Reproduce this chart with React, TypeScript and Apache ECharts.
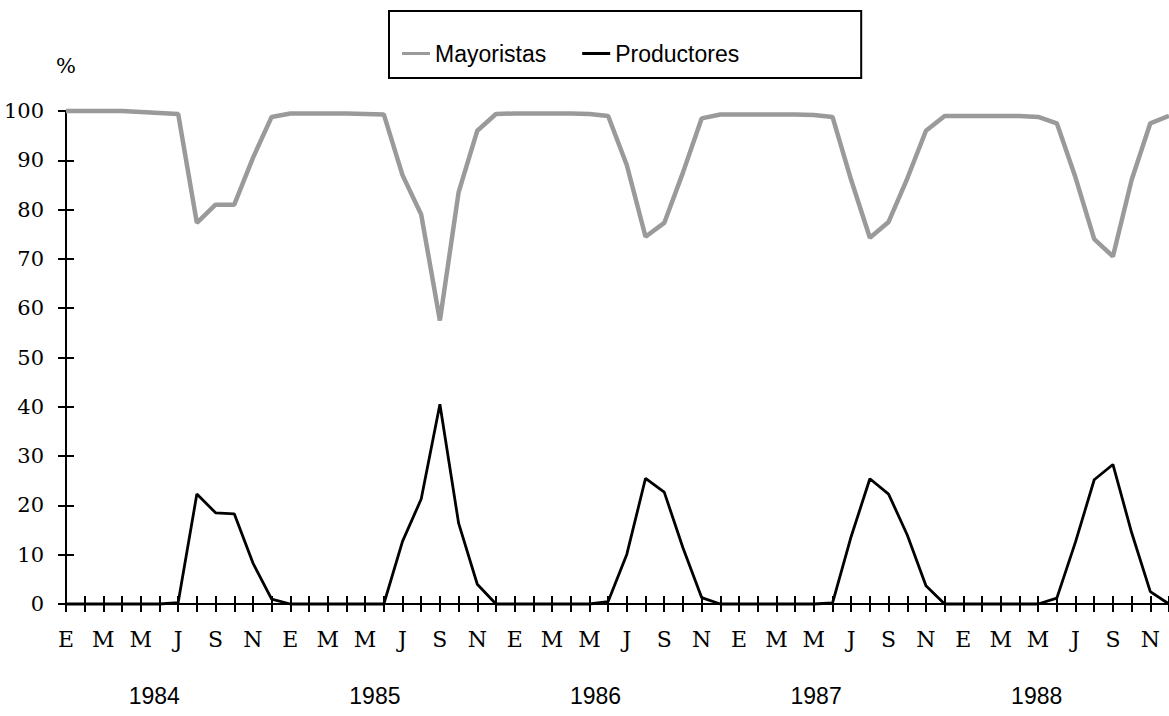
import React, { useEffect, useRef } from "react";
import * as echarts from "echarts";

// Month initials (Spanish) and years
const monthLetters = ["E", "F", "M", "A", "M", "J", "J", "A", "S", "O", "N", "D"];
const years = ["1984", "1985", "1986", "1987", "1988"];

// Mayoristas (%) by year, Jan..Dec
const mayoristas1984 = [100, 100, 100, 100, 99.8, 99.6, 99.4, 77.3, 81, 81, 90.5, 98.8];
const mayoristas1985 = [99.5, 99.5, 99.5, 99.5, 99.4, 99.3, 87, 79, 57.5, 83.5, 96, 99.4];
const mayoristas1986 = [99.5, 99.5, 99.5, 99.5, 99.4, 99, 89, 74.5, 77.3, 87.5, 98.5, 99.3];
const mayoristas1987 = [99.3, 99.3, 99.3, 99.3, 99.2, 98.8, 86, 74.3, 77.5, 86.3, 96, 99];
const mayoristas1988 = [99, 99, 99, 99, 98.8, 97.5, 86.5, 74, 70.5, 86, 97.5, 99];

// Productores (%) by year, Jan..Dec
const productores1984 = [0, 0, 0, 0, 0, 0, 0.3, 22.3, 18.5, 18.3, 8.3, 1];
const productores1985 = [0, 0, 0, 0, 0, 0, 12.7, 21.3, 40.5, 16.4, 4, 0];
const productores1986 = [0, 0, 0, 0, 0, 0.5, 10.1, 25.5, 22.7, 11.4, 1.3, 0];
const productores1987 = [0, 0, 0, 0, 0, 0.2, 13.7, 25.4, 22.3, 14, 3.7, 0];
const productores1988 = [0, 0, 0, 0, 0, 1.2, 12.6, 25.2, 28.3, 14.5, 2.5, 0];

const SERIF = "DejaVu Serif";
const SANS = "Liberation Sans";

export default function App() {
  const ref = useRef<HTMLDivElement>(null);

  useEffect(() => {
    if (!ref.current) return;
    const chart = echarts.init(ref.current, null, { renderer: "svg" });

    const categories = years.flatMap((y) => monthLetters.map((m, i) => `${m}|${y}|${i}`));
    const mayoristas = [
      ...mayoristas1984,
      ...mayoristas1985,
      ...mayoristas1986,
      ...mayoristas1987,
      ...mayoristas1988,
    ];
    const productores = [
      ...productores1984,
      ...productores1985,
      ...productores1986,
      ...productores1987,
      ...productores1988,
    ];

    const axisLineStyle = { color: "#000", width: 2 };
    const grayLine = "#9a9a9a";

    chart.setOption({
      animation: false,
      backgroundColor: "#fff",
      grid: { left: 66, right: -6, top: 111, bottom: 112, containLabel: false },
      legend: {
        left: 389,
        top: 11,
        orient: "horizontal",
        padding: [31, 122, 13, 13],
        borderColor: "#000",
        borderWidth: 2,
        itemWidth: 28,
        itemHeight: 3,
        itemGap: 36,
        textStyle: { fontFamily: SANS, fontSize: 23, color: "#000" },
        data: [
          {
            name: "Mayoristas",
            icon: "rect",
            itemStyle: { color: grayLine },
          },
          {
            name: "Productores",
            icon: "rect",
            itemStyle: { color: "#000" },
          },
        ],
      },
      xAxis: [
        {
          type: "category",
          data: categories,
          boundaryGap: false,
          axisLine: { lineStyle: axisLineStyle },
          axisTick: { show: true, interval: 0, length: 8, lineStyle: axisLineStyle },
          axisLabel: {
            interval: 1,
            margin: 24,
            fontFamily: SERIF,
            fontSize: 22,
            color: "#000",
            formatter: (v: string) => v.split("|")[0],
          },
          splitLine: { show: false },
        },
        {
          type: "category",
          data: categories,
          boundaryGap: false,
          position: "bottom",
          axisLine: { show: false },
          axisTick: { show: true, inside: true, interval: 0, length: 8, lineStyle: axisLineStyle },
          axisLabel: { show: false },
          splitLine: { show: false },
        },
        {
          type: "category",
          data: years,
          boundaryGap: true,
          position: "bottom",
          axisLine: { show: false },
          axisTick: { show: false },
          axisLabel: {
            margin: 80,
            fontFamily: SANS,
            fontSize: 23,
            color: "#000",
            padding: [0, 44, 0, 0],
          },
          splitLine: { show: false },
        },
      ],
      yAxis: [
        {
          type: "value",
          min: 0,
          max: 100,
          interval: 10,
          name: "%",
          nameLocation: "end",
          nameGap: 35,
          nameTextStyle: {
            fontFamily: SERIF,
            fontSize: 21,
            color: "#000",
          },
          axisLine: { show: true, lineStyle: axisLineStyle },
          axisTick: { show: true, length: 8, lineStyle: axisLineStyle },
          axisLabel: { margin: 22, fontFamily: SERIF, fontSize: 21, color: "#000" },
          splitLine: { show: false },
        },
        {
          type: "value",
          min: 0,
          max: 100,
          interval: 10,
          position: "left",
          axisLine: { show: false },
          axisTick: { show: true, inside: true, length: 8, lineStyle: axisLineStyle },
          axisLabel: { show: false },
          splitLine: { show: false },
        },
      ],
      series: [
        {
          name: "Mayoristas",
          type: "line",
          data: mayoristas,
          xAxisIndex: 0,
          yAxisIndex: 0,
          symbol: "none",
          clip: false,
          lineStyle: { color: grayLine, width: 4.5 },
          itemStyle: { color: grayLine },
        },
        {
          name: "Productores",
          type: "line",
          data: productores,
          xAxisIndex: 0,
          yAxisIndex: 0,
          symbol: "none",
          clip: false,
          lineStyle: { color: "#000", width: 2.8 },
          itemStyle: { color: "#000" },
        },
      ],
    });

    return () => chart.dispose();
  }, []);

  return (
    <div
      ref={ref}
      style={{ position: "fixed", left: 0, top: 0, width: 1169, height: 716, background: "#fff" }}
    />
  );
}
